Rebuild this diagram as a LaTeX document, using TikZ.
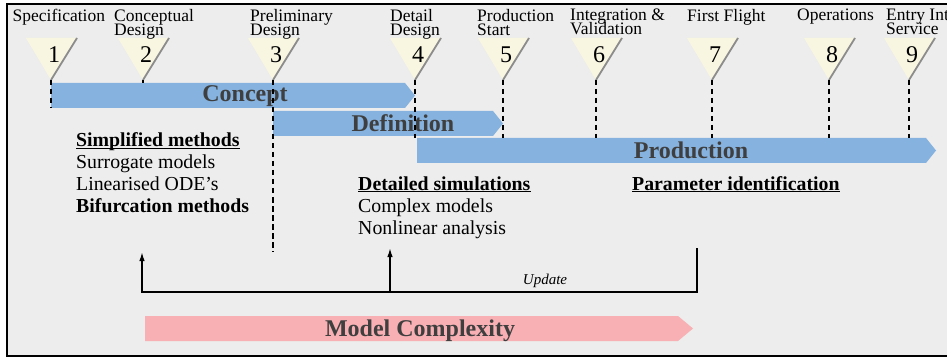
\documentclass[tikz,border=0pt]{standalone}
\usepackage{fontspec}
\setmainfont{Liberation Serif}
\usetikzlibrary{arrows.meta}
\definecolor{bgc}{HTML}{ECEDEC}
\definecolor{barblue}{HTML}{85B2DF}
\definecolor{barpink}{HTML}{F8B0B4}
\definecolor{tricream}{HTML}{F8F5E1}
\definecolor{tshadow}{HTML}{8C8C8C}
\definecolor{labelgray}{HTML}{3F3F3F}
\newcommand\toplabelfont{\fontsize{17.5}{14}\selectfont\lineskiplimit=-20pt\relax\lineskip=0pt\relax}
\begin{document}
\begin{tikzpicture}[x=1pt,y=-1pt,
  toplabel/.style={anchor=north west,inner sep=0pt,align=left,font=\toplabelfont},
  numlabel/.style={anchor=base,inner sep=0pt,font=\fontsize{24}{24}\selectfont},
  barlabel/.style={anchor=base,inner sep=0pt,text=labelgray,font=\fontsize{24}{24}\selectfont\bfseries},
  bodytext/.style={anchor=base west,inner sep=0pt,font=\fontsize{19.8}{19.8}\selectfont},
  bodyhead/.style={bodytext,font=\fontsize{19.8}{19.8}\selectfont\bfseries},
  ulline/.style={line width=1.1pt},
  milestone/.style={dash pattern=on 5.5pt off 3.5pt,line width=1.4pt},
  fbline/.style={line width=1.5pt},
  fbarrow/.style={fbline,-{Latex[length=9pt,width=5.5pt]}}]
\useasboundingbox (0,0) rectangle (947,358);
\fill[white] (0,0) rectangle (947,358);
\fill[bgc] (7,4) rectangle (947,356);
\draw[line width=2.6pt] (947,4) -- (7,4) -- (7,356) -- (947,356);

% milestone triangles
\foreach \i/\x in {1/51,2/143,3/273,4/415,5/503,6/596,7/712,8/829,9/909}{
  \fill[tricream] (\x-25,38) -- (\x+26,38) -- (\x,80) -- cycle;
  \draw[tshadow,line width=1.8pt] (\x+26,38) -- (\x,80);
  \coordinate (m\i) at (\x,80);
  \node[numlabel] (n\i) at (\x+3,62.5) {\i};
}

% bars
\fill[barblue] (51,83) -- (405,83) -- (415,95.5) -- (405,108) -- (51,108) -- cycle;
\fill[barblue] (273,111) -- (493,111) -- (503,123.5) -- (493,136) -- (273,136) -- cycle;
\fill[barblue] (417,138) -- (926,138) -- (936,150.5) -- (926,163) -- (417,163) -- cycle;
\fill[barpink] (145,316) -- (678,316) -- (693,328.5) -- (678,341) -- (145,341) -- cycle;
\node[barlabel] (concept) at (245,102) {Concept};
\node[barlabel] (definition) at (403,131.5) {Definition};
\node[barlabel] (production) at (691,159) {Production};
\node[barlabel] (complexity) at (420,336.5) {Model Complexity};

% dashed milestone lines
\coordinate (e1) at (51,108);
\coordinate (e2) at (143,83);
\coordinate (e3) at (273,252);
\foreach \i/\x in {4/415,5/503,6/596,7/712,8/829,9/909}{
  \coordinate (e\i) at (\x,138);
}
\foreach \i in {1,...,9}{
  \draw[milestone] (m\i) -- (e\i);
}

% top labels
\node[toplabel] (t1) at (12.5,9) {Specification};
\node[toplabel] (t2) at (114,9) {Conceptual\\Design};
\node[toplabel] (t3) at (250,9) {Preliminary\\Design};
\node[toplabel] (t4) at (390,9) {Detail\\Design};
\node[toplabel] (t5) at (477,9) {Production\\Start};
\node[toplabel] (t6) at (570,9) {Integration \&\\Validation};
\node[toplabel] (t7) at (687,9) {First Flight};
\node[toplabel] (t8) at (797,9) {Operations};
\node[toplabel] (t9) at (886,9) {Entry Into\\Service};

% body texts
\node[bodyhead] (s1) at (76,147) {Simplified methods};
\draw[ulline] ([yshift=-1.8pt]s1.base west) -- ([yshift=-1.8pt]s1.base east);
\node[bodytext] (s2) at (76,168.7) {Surrogate models};
\node[bodytext] (s3) at (76,190.4) {Linearised ODE’s};
\node[bodyhead] (s4) at (76,212.1) {Bifurcation methods};

\node[bodyhead] (d1) at (358,190) {Detailed simulations};
\draw[ulline] ([yshift=-1.8pt]d1.base west) -- ([yshift=-1.8pt]d1.base east);
\node[bodytext] (d2) at (358,212) {Complex models};
\node[bodytext] (d3) at (358,234) {Nonlinear analysis};

\node[bodyhead] (p1) at (632,190) {Parameter identification};
\draw[ulline] ([yshift=-1.8pt]p1.base west) -- ([yshift=-1.8pt]p1.base east);

% update loop
\coordinate (fbL) at (142,292);
\coordinate (fbM) at (390,292);
\coordinate (fbR) at (697,292);
\coordinate (aL) at (142,252);
\coordinate (aM) at (390,248);
\coordinate (aR) at (697,248);
\draw[fbarrow] (aR) -- (fbR) -- (fbL) -- (aL);
\draw[fbarrow] (fbM) -- (aM);
\node[anchor=base,inner sep=0pt,font=\fontsize{15}{15}\selectfont\itshape] (upd) at (545,284) {Update};
\end{tikzpicture}
\end{document}
